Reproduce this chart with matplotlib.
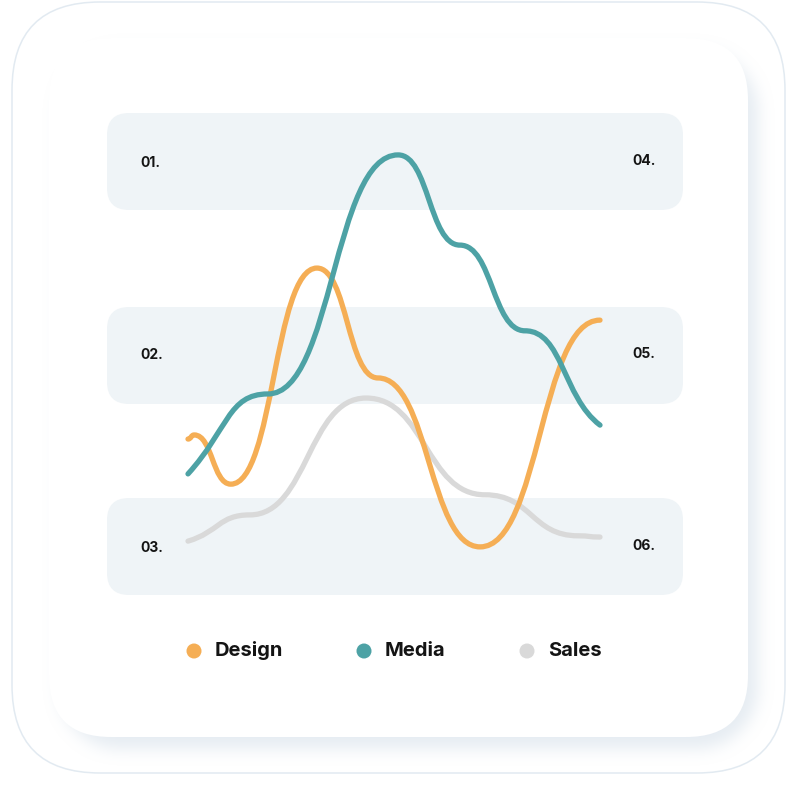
import numpy as np
import matplotlib
matplotlib.use("Agg")
import matplotlib.pyplot as plt
from matplotlib.path import Path
from matplotlib.patches import PathPatch, FancyBboxPatch, Circle
from matplotlib.colors import to_rgb

plt.rcParams['font.family'] = ['Inter', 'DejaVu Sans']

# anchor points of each curve (x: 0-100 along the chart, y: 0-100 value)
design_x = [0, 1.5, 10.4, 31.3, 46.1, 70.9, 100]
design_y = [29.5, 30.5, 18.5, 71.2, 44.4, 3.2, 58.5]

media_x = [0, 19.4, 51.0, 66.0, 81.8, 100]
media_y = [21.0, 40.5, 98.8, 76.8, 55.9, 32.9]

sales_x = [0, 15.0, 43.2, 72.1, 94.7, 100]
sales_y = [4.6, 11.0, 39.5, 15.9, 5.9, 5.6]

series = ["Design", "Media", "Sales"]
colors = ["#F5AE55", "#4DA2A5", "#D9D9D9"]
row_labels_left = ["01.", "02.", "03."]
row_labels_right = ["04.", "05.", "06."]


def smooth_path(xs, ys, k=0.5, tilt_start=0.0, tilt_end=0.0):
    # cubic bezier through anchors, horizontal handles at inner anchors
    verts = [(xs[0], ys[0])]
    codes = [Path.MOVETO]
    n = len(xs) - 1
    for i in range(n):
        dx = xs[i + 1] - xs[i]
        dy = ys[i + 1] - ys[i]
        y0 = ys[i] + (dy * tilt_start if i == 0 else 0)
        y1 = ys[i + 1] - (dy * tilt_end if i == n - 1 else 0)
        verts += [(xs[i] + dx * k, y0), (xs[i + 1] - dx * k, y1), (xs[i + 1], ys[i + 1])]
        codes += [Path.CURVE4] * 3
    return Path(verts, codes)


def rounded_mask(x0, y0, x1, y1, r, size=800):
    yy, xx = np.mgrid[0:size, 0:size] + 0.5
    cx = np.clip(xx, x0 + r, x1 - r)
    cy = np.clip(yy, y0 + r, y1 - r)
    return ((xx - cx) ** 2 + (yy - cy) ** 2 <= r * r).astype(float)


def box_blur(img, r):
    for axis in (0, 1):
        c = np.cumsum(np.pad(img, [(r + 1, r) if a == axis else (0, 0) for a in (0, 1)], mode="edge"), axis=axis)
        if axis == 0:
            img = (c[2 * r + 1:, :] - c[:-2 * r - 1, :]) / (2 * r + 1)
        else:
            img = (c[:, 2 * r + 1:] - c[:, :-2 * r - 1]) / (2 * r + 1)
    return img


fig = plt.figure(figsize=(8, 8), dpi=100)

# background decoration in pixel coordinates
bg = fig.add_axes([0, 0, 1, 1])
bg.set_xlim(0, 800)
bg.set_ylim(800, 0)
bg.axis("off")

bg.add_patch(FancyBboxPatch((12 + 88, 2 + 88), 773 - 176, 771 - 176,
                            boxstyle="round,pad=88", fc="white", ec="#E2EAF1", lw=1.1, zorder=0))

# soft shadow of the inner card
sh = rounded_mask(49 + 10, 38 + 12, 748 + 10, 737 + 12, 62)
for _ in range(3):
    sh = box_blur(sh, 7)
rgba = np.zeros((800, 800, 4))
rgba[..., :3] = to_rgb("#C8D6E3")
rgba[..., 3] = sh * 0.45
bg.imshow(rgba, extent=(0, 800, 800, 0), zorder=1, interpolation="bilinear")
bg.set_xlim(0, 800)
bg.set_ylim(800, 0)

bg.add_patch(FancyBboxPatch((49 + 62, 38 + 62), 699 - 124, 699 - 124,
                            boxstyle="round,pad=62", fc="white", ec="none", zorder=2))

for top in [113, 307, 498]:
    bg.add_patch(FancyBboxPatch((107 + 22, top + 22), 576 - 44, 97 - 44,
                                boxstyle="round,pad=22", fc="#EFF4F7", ec="none", zorder=3))

for lab, ty in zip(row_labels_left, [163, 355, 548]):
    bg.text(140, ty, lab, ha="left", va="center", fontsize=10, fontweight="bold", color="#141414", zorder=4)
for lab, ty in zip(row_labels_right, [161, 354, 546]):
    bg.text(632, ty, lab, ha="left", va="center", fontsize=10, fontweight="bold", color="#141414", zorder=4)

# legend
for name, col, lx in zip(series, colors, [194, 364, 527]):
    bg.add_patch(Circle((lx, 651), 7.5, fc=col, ec="none", zorder=4))
    bg.text(lx + 21, 651, name, ha="left", va="center", fontsize=14.5, fontweight="bold", color="#141414", zorder=4)

# chart axes
ax = fig.add_axes([188 / 800, 1 - 560 / 800, 412 / 800, 410 / 800])
ax.set_xlim(0, 100)
ax.set_ylim(0, 100)
ax.axis("off")
ax.patch.set_alpha(0)

for xs, ys, col, z, ts, te in [(sales_x, sales_y, colors[2], 2, 0.35, 0.0),
                               (design_x, design_y, colors[0], 3, 0.0, 0.0),
                               (media_x, media_y, colors[1], 4, 0.55, 0.3)]:
    ax.add_patch(PathPatch(smooth_path(xs, ys, tilt_start=ts, tilt_end=te), fc="none", ec=col,
                           lw=3.8, capstyle="round", joinstyle="round", zorder=z, clip_on=False))

fig.savefig("out.png", dpi=100)
